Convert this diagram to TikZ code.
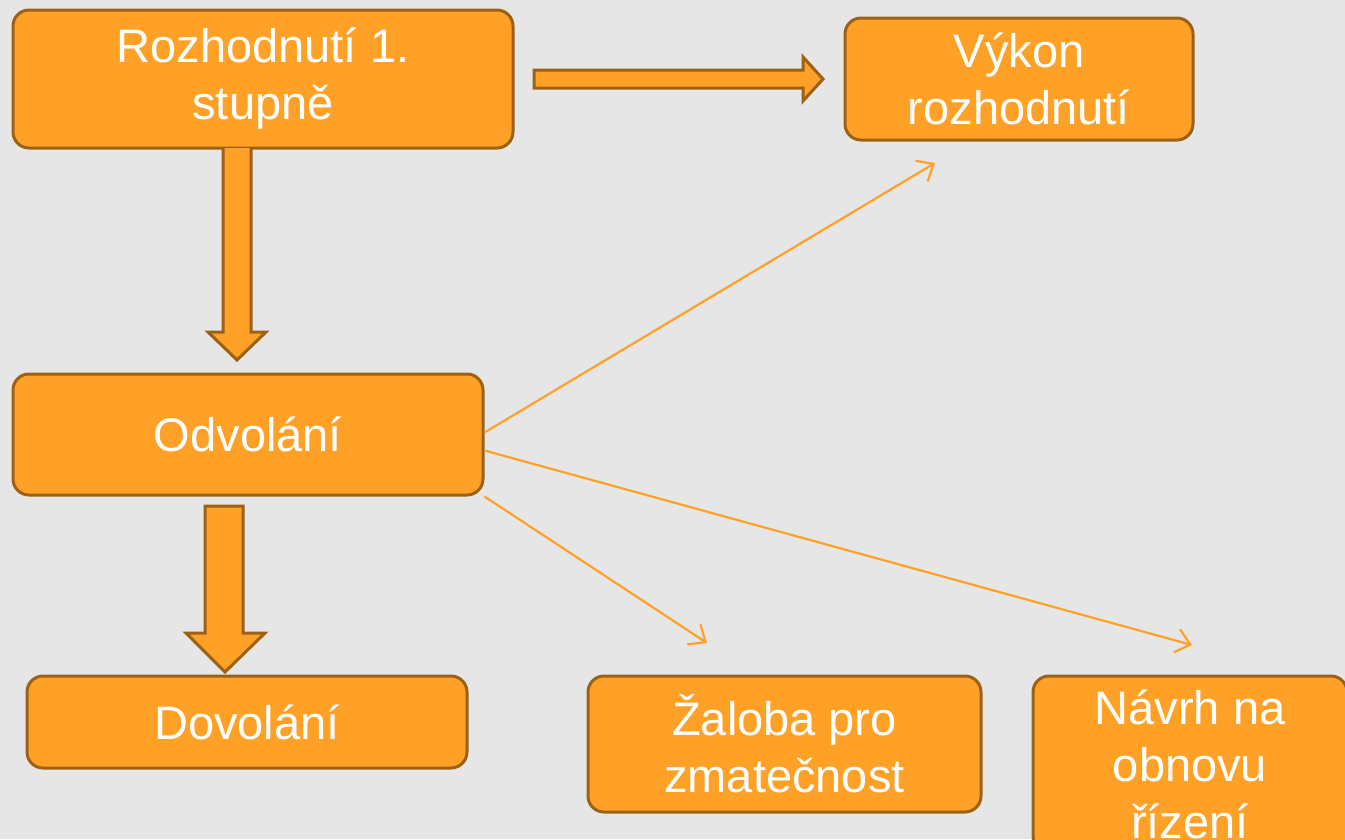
\documentclass[tikz,border=0pt]{standalone}
\usepackage{fontspec}
\setmainfont{Liberation Sans}
\usetikzlibrary{arrows.meta,calc}
\definecolor{bg}{RGB}{230,230,230}
\definecolor{boxfill}{RGB}{255,161,38}
\definecolor{boxline}{RGB}{156,97,20}
\definecolor{thin}{RGB}{255,161,38}
\begin{document}
\begin{tikzpicture}[x=1pt,y=-1pt,
  box/.style={draw=boxline, line width=3pt, fill=boxfill, rounded corners=16pt,
    text=white, align=center, inner sep=0pt,
    font=\fontsize{47}{57}\selectfont},
  blockarrow/.style={draw=boxline, line width=3pt, fill=boxfill, line join=miter},
  thinarrow/.style={draw=thin, line width=2.2pt,
    -{Straight Barb[length=14pt,width=24pt,line width=2.2pt]}}]
\clip (0,0) rectangle (1345,839);
\fill[bg] (0,0) rectangle (1345,839);

\node[box, minimum width=500pt, minimum height=138pt] (roz) at (263,79) {Rozhodnutí 1.\\stupně};
\node[box, minimum width=348pt, minimum height=122pt] (vyk) at (1019,79) {Výkon\\rozhodnutí};
\node[box, minimum width=470pt, minimum height=121pt] (odv) at (248,434.5) {Odvolání};
\node[box, minimum width=440pt, minimum height=92pt] (dov) at (247,722) {Dovolání};
\node[box, minimum width=393pt, minimum height=136pt] (zal) at (784.5,744) {Žaloba pro\\zmatečnost};
\node[box, minimum width=314pt, minimum height=176pt] (nav) at (1190,764) {Návrh na\\obnovu\\řízení};

% block arrows
\draw[blockarrow] (534,70) -- (803,70) -- (803,57) -- (823,79) -- (803,101) -- (803,88) -- (534,88) -- cycle;
\draw[blockarrow] (223,148) -- (223,332) -- (208,332) -- (237,360) -- (266,332) -- (251,332) -- (251,148);
\draw[blockarrow] (205,506) -- (205,633) -- (186,633) -- (225,672) -- (265,633) -- (243,633) -- (243,506) -- cycle;

% thin arrows
\coordinate (t1) at (935,163);
\coordinate (t2) at (1192,645);
\coordinate (t3) at (707,643);
\draw[thinarrow] ($(odv.east)+(0,-2)$) -- (t1);
\draw[thinarrow] ($(odv.east)+(0,16)$) -- (t2);
\draw[thinarrow] (odv.south east) -- (t3);
\end{tikzpicture}
\end{document}
